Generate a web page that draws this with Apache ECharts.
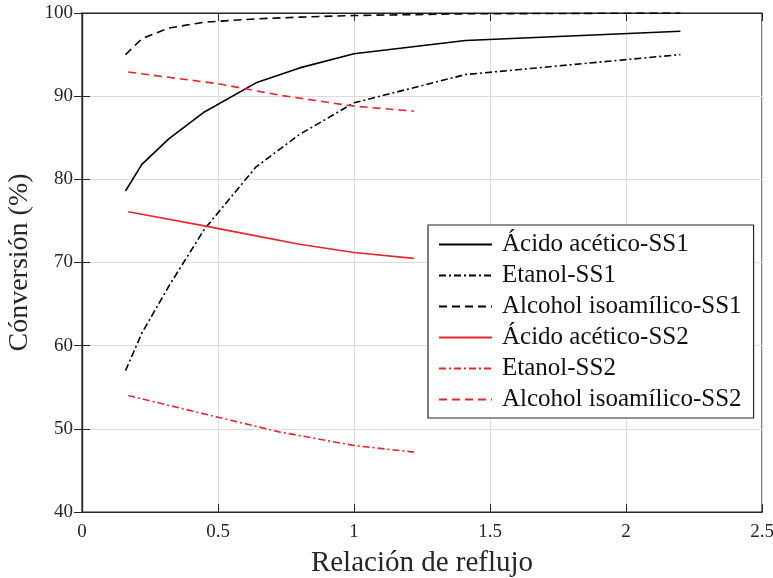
<!DOCTYPE html>
<html>
<head>
<meta charset="utf-8">
<script src="https://cdn.jsdelivr.net/npm/echarts@6/dist/echarts.min.js"></script>
<style>html,body{margin:0;padding:0;background:#fff}#chart{width:773px;height:578px}</style>
</head>
<body>
<div id="chart"></div>
<script>
// relación de reflujo
var xSS1 = [0.16, 0.22, 0.32, 0.45, 0.64, 0.8, 1.0, 1.41, 2.2]
var xSS2 = [0.17, 0.5, 0.73, 1.0, 1.22]
var xSS2b = [0.17, 0.45, 0.64, 0.8, 1.0, 1.22]

var acidoSS1 = [78.6, 81.8, 84.9, 88.1, 91.6, 93.4, 95.1, 96.7, 97.8]
var etanolSS1 = [57.0, 61.5, 67.2, 74.0, 81.5, 85.4, 89.2, 92.6, 95.0]
var isoSS1 = [95.0, 96.9, 98.2, 98.9, 99.3, 99.5, 99.7, 99.9, 100.0]

var acidoSS2 = [76.1, 74.4, 73.2, 72.2, 71.2, 70.5]
var etanolSS2 = [54.0, 51.4, 49.6, 48.0, 47.2]
var isoSS2 = [92.9, 91.5, 90.1, 88.8, 88.2]

var names = ['Ácido acético-SS1', 'Etanol-SS1', 'Alcohol isoamílico-SS1',
             'Ácido acético-SS2', 'Etanol-SS2', 'Alcohol isoamílico-SS2']

function pairs(xs, ys){
    return xs.map(function(x, i){ return [x, ys[i]] })
}

var dashDot = [7, 3, 2, 3]
var dashed = [8, 5]
var font = '"Liberation Serif", "DejaVu Serif", serif'

function serie(name, data, color, type){
    return {
        name: name,
        type: 'line',
        data: data,
        symbol: 'none',
        symbolSize: 0,
        lineStyle: { color: color, width: 1.6, type: type },
        itemStyle: { color: color }
    }
}

var chart = echarts.init(document.getElementById('chart'))
var axisLine = { show: true, lineStyle: { color: '#262626', width: 1.2 } }
var tick = { inside: true, length: 8, lineStyle: { color: '#262626' } }
var option = {
    animation: false,
    grid: {
        left: 82, right: 11, top: 13, bottom: 66,
        outerBoundsMode: 'none', containLabel: false,
        show: true, borderColor: '#262626', borderWidth: 1.2
    },
    legend: {
        orient: 'vertical',
        left: 428, top: 225,
        width: 326,
        padding: [7, 12, 6, 10],
        itemWidth: 53, itemHeight: 4,
        itemGap: 6,
        backgroundColor: '#fff',
        borderColor: '#262626', borderWidth: 1.2,
        itemStyle: { opacity: 0 },
        textStyle: { fontFamily: font, fontSize: 25, color: '#111', lineHeight: 25, padding: [0, 0, 0, 5] },
        data: names
    },
    xAxis: [{
        type: 'value', min: 0, max: 2.5, interval: 0.5,
        name: 'Relación de reflujo', nameLocation: 'middle', nameGap: 37,
        nameTextStyle: { fontFamily: font, fontSize: 29, color: '#262626' },
        axisLine: axisLine,
        axisTick: tick,
        axisLabel: { fontFamily: font, fontSize: 19, color: '#262626', margin: 11 },
        splitLine: { lineStyle: { color: '#dcdcdc' } }
    }, {
        type: 'value', min: 0, max: 2.5, interval: 0.5, position: 'top',
        axisLine: axisLine,
        axisTick: tick,
        axisLabel: { show: false }, splitLine: { show: false }
    }],
    yAxis: [{
        type: 'value', min: 40, max: 100, interval: 10,
        name: 'Cónversión (%)', nameLocation: 'middle', nameGap: 42,
        nameTextStyle: { fontFamily: font, fontSize: 28, color: '#262626' },
        axisLine: axisLine,
        axisTick: tick,
        axisLabel: { fontFamily: font, fontSize: 19, color: '#262626', margin: 9 },
        splitLine: { lineStyle: { color: '#dcdcdc' } }
    }, {
        type: 'value', min: 40, max: 100, interval: 10, position: 'right',
        axisLine: axisLine,
        axisTick: tick,
        axisLabel: { show: false }, splitLine: { show: false }
    }],
    series: [
        serie(names[0], pairs(xSS1, acidoSS1), '#000', 'solid'),
        serie(names[1], pairs(xSS1, etanolSS1), '#000', dashDot),
        serie(names[2], pairs(xSS1, isoSS1), '#000', dashed),
        serie(names[3], pairs(xSS2b, acidoSS2), '#e8262a', 'solid'),
        serie(names[4], pairs(xSS2, etanolSS2), '#e8262a', dashDot),
        serie(names[5], pairs(xSS2, isoSS2), '#e8262a', dashed)
    ]
}
chart.setOption(option)
</script>
</body>
</html>
